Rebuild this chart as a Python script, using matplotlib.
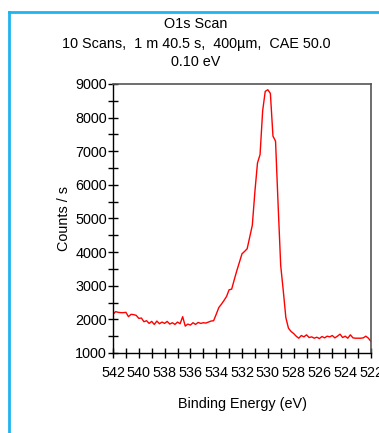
import numpy as np
import matplotlib
matplotlib.use('Agg')
import matplotlib.pyplot as plt
from matplotlib.ticker import MultipleLocator
from matplotlib.lines import Line2D

plt.rcParams['font.family'] = ['Liberation Sans', 'DejaVu Sans']

# O1s spectrum, binding energy 542 -> 522 eV in 0.2 eV steps
energy = np.round(np.linspace(542.0, 522.0, 101), 1)
counts = [
    2150, 2230, 2210, 2200, 2200,
    2210, 2080, 2150, 2140, 2120,
    2030, 2040, 1930, 1960, 1880,
    1940, 1850, 1950, 1870, 1920,
    1880, 1940, 1860, 1900, 1850,
    1920, 1870, 2080, 1800, 1860,
    1830, 1900, 1850, 1910, 1880,
    1900, 1890, 1920, 1950, 1960,
    2150, 2350, 2450, 2560, 2680,
    2880, 2900, 3180, 3450, 3700,
    3950, 4020, 4100, 4450, 4800,
    5800, 6650, 6900, 8200, 8780,
    8830, 8720, 7450, 7300, 5400,
    3600, 2850, 2050, 1740, 1640,
    1580, 1500, 1440, 1520, 1480,
    1540, 1460, 1480, 1440, 1470,
    1430, 1490, 1450, 1500, 1480,
    1520, 1450, 1500, 1560, 1460,
    1500, 1440, 1540, 1450, 1440,
    1440, 1440, 1450, 1500, 1440,
    1340,
]

title_lines = ['O1s Scan',
               '10 Scans,  1 m 40.5 s,  400\u00b5m,  CAE 50.0',
               '0.10 eV']

W, H = 379, 433
fs = 10.4
fig = plt.figure(figsize=(W / 100, H / 100), dpi=100)
ax = fig.add_axes([113 / W, (H - 353) / H, 258 / W, 269 / H])

ax.plot(energy, counts, color='#ff0000', linewidth=1.0)

ax.set_xlim(542, 522)
ax.set_ylim(1000, 9000)
ax.xaxis.set_major_locator(MultipleLocator(2))
ax.xaxis.set_minor_locator(MultipleLocator(1))
ax.yaxis.set_major_locator(MultipleLocator(1000))
ax.yaxis.set_minor_locator(MultipleLocator(500))
ax.tick_params(which='both', direction='inout', length=7, width=1, labelsize=fs)
ax.tick_params(axis='x', which='both', pad=6)
ax.tick_params(axis='y', which='both', pad=1)
for s in ['top', 'right']:
    ax.spines[s].set_color('#555555')
    ax.spines[s].set_linewidth(1.2)
for s in ['left', 'bottom']:
    ax.spines[s].set_linewidth(1.0)
ax.tick_params(top=False, right=False)

ax.set_xlabel('Binding Energy (eV)', fontsize=fs, labelpad=12)
ax.set_ylabel('Counts / s', fontsize=fs, labelpad=3)

# title block
ys = [24, 44, 62]
for txt, y in zip(title_lines, ys):
    fig.text(196 / W, 1 - y / H, txt, ha='center', va='center', fontsize=fs)

# light blue frame
frame_col = '#1fb4ef'
fig.add_artist(Line2D([9 / W, 9 / W], [0, 1 - 12 / H], color=frame_col, linewidth=2,
                      transform=fig.transFigure))
fig.add_artist(Line2D([9 / W, 1], [1 - 12 / H, 1 - 12 / H], color=frame_col, linewidth=2,
                      transform=fig.transFigure))

fig.savefig('out.png', dpi=100)
